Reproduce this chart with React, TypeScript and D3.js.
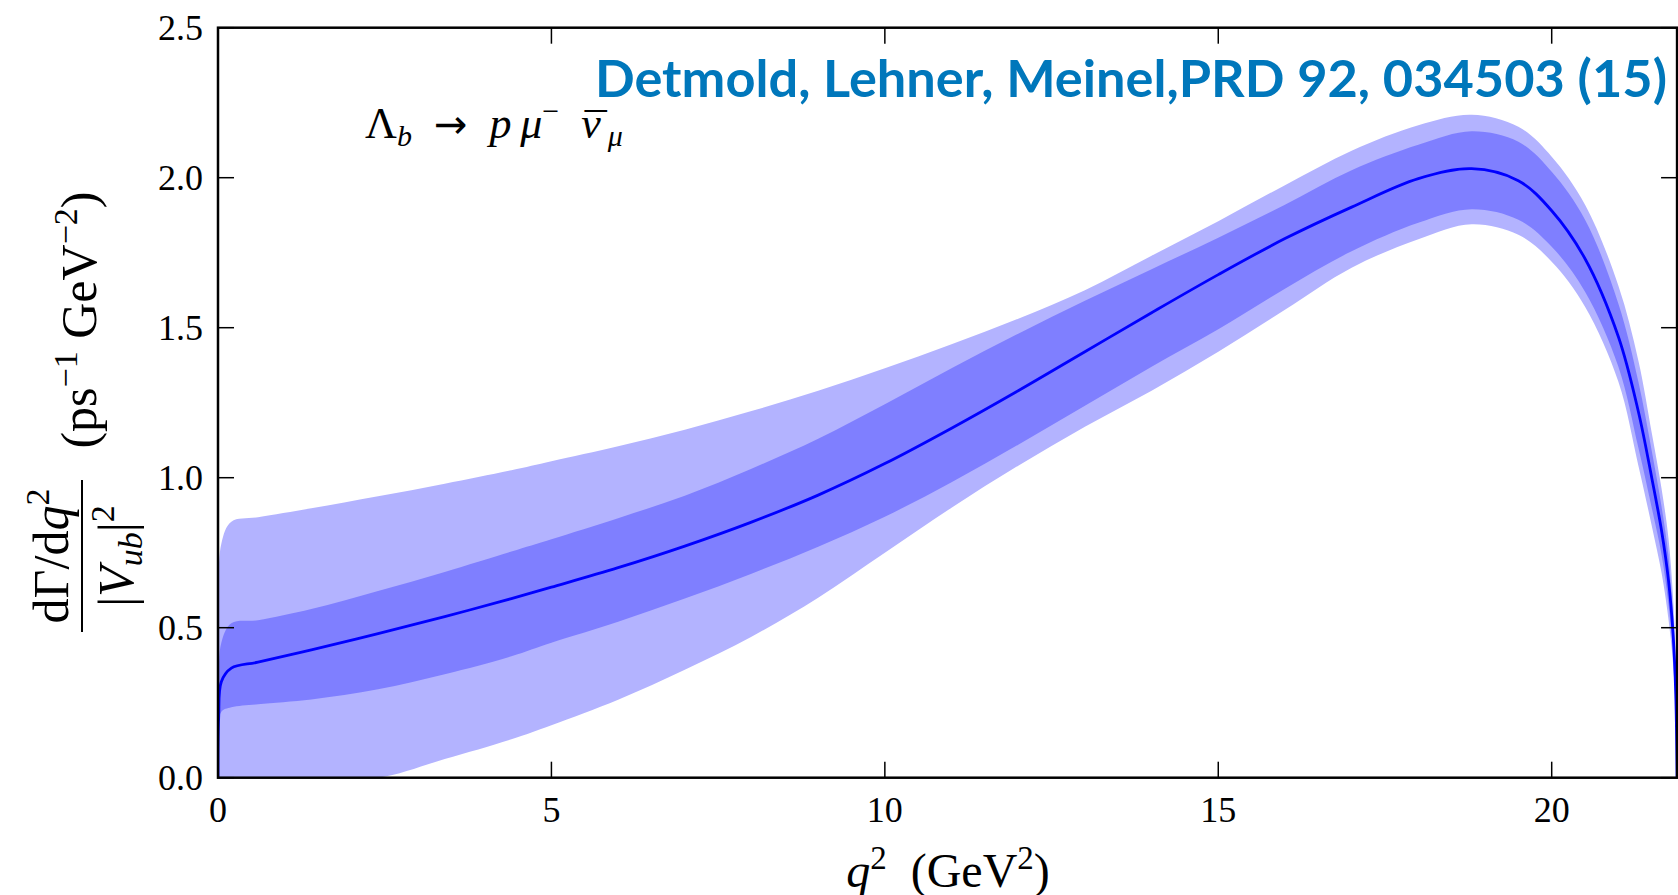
import React from 'react';
import * as d3 from 'd3';

const W = 1678;
const H = 895;

// q^2 grid (GeV^2) and the curves
const qGrid = [0, 0.01, 0.05, 0.2, 0.6, 1.4, 2.4, 3.4, 4.4, 5, 6, 7, 8, 9, 10, 11, 12, 13, 14, 15, 16, 17, 18, 18.8, 19.5, 20, 20.5, 21, 21.3, 21.5, 21.65, 21.75, 21.82, 21.86, 21.88];
const central = [0, 0.2, 0.32, 0.365, 0.385, 0.426, 0.48, 0.537, 0.597, 0.635, 0.7, 0.772, 0.852, 0.942, 1.047, 1.165, 1.29, 1.42, 1.55, 1.677, 1.797, 1.902, 1.997, 2.03, 1.99, 1.89, 1.73, 1.47, 1.22, 1.0, 0.82, 0.66, 0.48, 0.28, 0];
const innerHi = [0, 0.3, 0.45, 0.515, 0.525, 0.562, 0.622, 0.686, 0.754, 0.795, 0.865, 0.94, 1.03, 1.13, 1.245, 1.365, 1.48, 1.59, 1.695, 1.8, 1.91, 2.025, 2.11, 2.155, 2.12, 2.02, 1.86, 1.58, 1.32, 1.09, 0.9, 0.74, 0.54, 0.32, 0];
const innerLo = [0, 0.15, 0.22, 0.235, 0.245, 0.261, 0.295, 0.345, 0.405, 0.45, 0.52, 0.597, 0.68, 0.77, 0.87, 0.985, 1.11, 1.24, 1.37, 1.495, 1.63, 1.755, 1.85, 1.895, 1.86, 1.77, 1.62, 1.37, 1.1, 0.9, 0.74, 0.58, 0.42, 0.24, 0];
const outerHi = [0, 0.5, 0.78, 0.853, 0.868, 0.898, 0.938, 0.98, 1.025, 1.055, 1.105, 1.16, 1.222, 1.29, 1.365, 1.445, 1.53, 1.625, 1.74, 1.855, 1.975, 2.09, 2.175, 2.21, 2.17, 2.07, 1.91, 1.64, 1.39, 1.15, 0.96, 0.8, 0.6, 0.36, 0];
const outerLo = [0, 0, 0, 0, 0, 0, 0, 0.062, 0.128, 0.175, 0.26, 0.36, 0.47, 0.6, 0.75, 0.9, 1.04, 1.17, 1.29, 1.42, 1.56, 1.7, 1.795, 1.845, 1.81, 1.72, 1.57, 1.32, 1.04, 0.84, 0.68, 0.53, 0.38, 0.2, 0];

const xTicks = [0, 5, 10, 15, 20];
const yTicks = [0, 0.5, 1.0, 1.5, 2.0, 2.5];
const qMax = 21.88;

const serif = '"Liberation Serif", "DejaVu Serif", serif';

export default function App() {
  const x = d3.scaleLinear().domain([0, 20]).range([218, 1551.7]);
  const y = d3.scaleLinear().domain([0, 2.5]).range([777.7, 27.7]);
  const x0 = x(0), x1 = x(qMax), yb = y(0), yt = y(2.5);

  const idx = d3.range(qGrid.length);
  const curve = d3.curveCatmullRom.alpha(0.5);
  const band = (lo: number[], hi: number[]) =>
    d3.area<number>()
      .x(i => x(qGrid[i]))
      .y0(i => y(Math.max(0, lo[i])))
      .y1(i => y(hi[i]))
      .curve(curve)(idx) || '';
  const line = d3.line<number>()
    .x(i => x(qGrid[i]))
    .y(i => y(central[i]))
    .curve(curve)(idx) || '';

  const tick = 16;

  return (
    <svg width={W} height={H} style={{ position: 'absolute', left: 0, top: 0, background: '#fff' }}>
      <defs>
        <clipPath id="plot">
          <rect x={x0} y={yt} width={x1 - x0} height={yb - yt} />
        </clipPath>
      </defs>

      <g clipPath="url(#plot)">
        <path d={band(outerLo, outerHi)} fill="#b3b3ff" />
        <path d={band(innerLo, innerHi)} fill="#7f7fff" />
        <path d={line} fill="none" stroke="#0000ff" strokeWidth={2.8} />
      </g>

      {/* ticks, inward on all four sides */}
      <g stroke="#000" strokeWidth={1.5}>
        {xTicks.map(t => (
          <g key={'xt' + t}>
            <line x1={x(t)} x2={x(t)} y1={yb} y2={yb - tick} />
            <line x1={x(t)} x2={x(t)} y1={yt} y2={yt + tick} />
          </g>
        ))}
        {yTicks.map(t => (
          <g key={'yt' + t}>
            <line x1={x0} x2={x0 + tick} y1={y(t)} y2={y(t)} />
            <line x1={x1} x2={x1 - tick} y1={y(t)} y2={y(t)} />
          </g>
        ))}
      </g>
      <rect x={x0} y={yt} width={x1 - x0} height={yb - yt} fill="none" stroke="#000" strokeWidth={2.5} />

      <g fontFamily={serif} fontSize={36} fill="#000">
        {yTicks.map(t => (
          <text key={'yl' + t} x={203} y={y(t) + 12} textAnchor="end">{t.toFixed(1)}</text>
        ))}
        {xTicks.map(t => (
          <text key={'xl' + t} x={x(t)} y={822} textAnchor="middle">{t}</text>
        ))}
      </g>

      {/* x axis label */}
      <text x={948} y={887} textAnchor="middle" fontFamily={serif} fontSize={48}>
        <tspan fontStyle="italic">q</tspan>
        <tspan dy={-18} fontSize={33}>2</tspan>
        <tspan dy={18}>{'\u2002(GeV'}</tspan>
        <tspan dy={-18} fontSize={33}>2</tspan>
        <tspan dy={18}>)</tspan>
      </text>

      {/* y axis label */}
      <g fontFamily={serif} fontSize={50}>
        <text transform="translate(96,320) rotate(-90)" textAnchor="middle">
          <tspan>(ps</tspan>
          <tspan dy={-19} fontSize={34}>{'\u22121'}</tspan>
          <tspan dy={19}>{' GeV'}</tspan>
          <tspan dy={-19} fontSize={34}>{'\u22122'}</tspan>
          <tspan dy={19}>)</tspan>
        </text>
        <text transform="translate(68,556) rotate(-90)" textAnchor="middle">
          <tspan>{'d\u0393/d'}</tspan>
          <tspan fontStyle="italic">q</tspan>
          <tspan dy={-19} fontSize={34}>2</tspan>
        </text>
        <line x1={82} x2={82} y1={480} y2={632} stroke="#000" strokeWidth={2} />
        <text transform="translate(133,556) rotate(-90)" textAnchor="middle">
          <tspan>|</tspan>
          <tspan fontStyle="italic">V</tspan>
          <tspan dy={9} fontSize={34} fontStyle="italic">ub</tspan>
          <tspan dy={-9}>|</tspan>
          <tspan dy={-19} fontSize={34}>2</tspan>
        </text>
      </g>

      {/* decay annotation */}
      <text x={365} y={138} fontFamily={serif} fontSize={44}>
        <tspan>{'\u039B'}</tspan>
        <tspan dy={8} fontSize={30} fontStyle="italic">b</tspan>
        <tspan dy={-8}>{'\u2002'}</tspan>
        <tspan fontFamily="'DejaVu Sans', sans-serif" fontSize={40}>{'\u2192'}</tspan>
        <tspan fontStyle="italic">{'\u2002p'}</tspan>
        <tspan fontStyle="italic">{'\u2009\u03BC'}</tspan>
        <tspan dy={-17} fontSize={30}>{'\u2212'}</tspan>
        <tspan dy={17} fontStyle="italic">{'\u2002\u03BD'}</tspan>
        <tspan dx={-16} dy={6}>{'\u00AF'}</tspan>
        <tspan dx={1} dy={2} fontSize={30} fontStyle="italic">{'\u03BC'}</tspan>
      </text>

      {/* reference */}
      <text x={595} y={97} fontFamily="Lato, 'Open Sans', sans-serif" fontWeight="bold" fontSize={52}
        fill="#0077bb" textLength={1072} lengthAdjust="spacingAndGlyphs">
        Detmold, Lehner, Meinel,PRD 92, 034503 (15)
      </text>
    </svg>
  );
}
